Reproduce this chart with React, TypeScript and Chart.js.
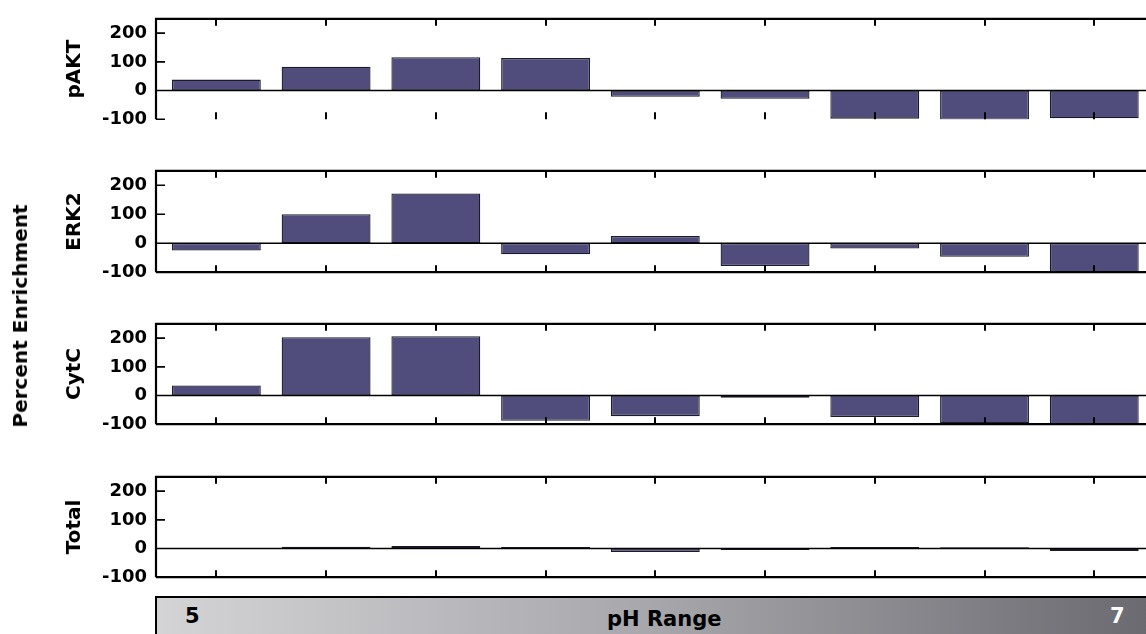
import React, { useEffect, useRef } from 'react';
import { Chart, registerables } from 'chart.js';

Chart.register(...registerables);

const FONT = "'DejaVu Sans', 'Liberation Sans', sans-serif";

// ---- data ----
const fractionIndex = [1, 2, 3, 4, 5, 6, 7, 8, 9];
const pAKT = [38, 83, 116, 113, -22, -29, -98, -102, -97];
const ERK2 = [-25, 100, 172, -38, 25, -79, -18, -47, -100];
const CytC = [35, 203, 207, -88, -72, -8, -75, -97, -102];
const Total = [-2, 6, 9, 5, -12, -5, 5, 4, -9];
const panelNames = ['pAKT', 'ERK2', 'CytC', 'Total'];
const yTickValues = [-100, 0, 100, 200];
const yMin = -100;
const yMax = 250;
const xMin = 0.45;
const xMax = 10;
const phEndLabels = ['5', '7'];
const xAxisTitle = 'pH Range';
const yAxisTitle = 'Percent Enrichment';

const BAR_FILL = '#504c7b';
const BAR_EDGE = '#1c1b2c';

const framePlugin = {
  id: 'frame',
  afterDatasetsDraw(chart: any, _args: any, opts: any) {
    const { ctx, chartArea } = chart;
    const { left, right, top, bottom } = chartArea;
    const x = chart.scales.x;
    const y = chart.scales.y;
    ctx.save();
    ctx.strokeStyle = '#000';
    // zero line
    const y0 = y.getPixelForValue(0);
    ctx.lineWidth = 1.4;
    ctx.beginPath();
    ctx.moveTo(left, y0);
    ctx.lineTo(right, y0);
    ctx.stroke();
    // frame
    ctx.lineWidth = 2.2;
    ctx.beginPath();
    ctx.moveTo(left, bottom);
    ctx.lineTo(left, top);
    ctx.lineTo(right, top);
    if (opts && opts.bottom) {
      ctx.moveTo(left, bottom);
      ctx.lineTo(right, bottom);
    }
    ctx.stroke();
    // x ticks (inward, top and bottom)
    ctx.lineWidth = 2;
    ctx.beginPath();
    for (const v of fractionIndex) {
      const px = Math.round(x.getPixelForValue(v));
      ctx.moveTo(px, top);
      ctx.lineTo(px, top + 7);
      ctx.moveTo(px, bottom);
      ctx.lineTo(px, bottom - 7);
    }
    ctx.stroke();
    // y ticks (inward)
    ctx.lineWidth = 1.6;
    ctx.beginPath();
    for (const v of yTickValues) {
      if (v === 0) continue;
      const py = y.getPixelForValue(v);
      ctx.moveTo(left, py);
      ctx.lineTo(left + 9, py);
    }
    ctx.stroke();
    ctx.restore();
  },
};

type PanelProps = { name: string; values: number[]; top: number; height: number; bottomBorder: boolean };

function Panel({ name, values, top, height, bottomBorder }: PanelProps) {
  const ref = useRef<HTMLCanvasElement | null>(null);
  useEffect(() => {
    if (!ref.current) return;
    const chart = new Chart(ref.current, {
      type: 'bar',
      data: {
        datasets: [
          {
            data: fractionIndex.map((f, i) => ({ x: f, y: values[i] })),
            backgroundColor: BAR_FILL,
            borderColor: BAR_EDGE,
            borderWidth: 1.3,
            borderSkipped: false,
            barPercentage: 0.81,
            categoryPercentage: 1,
          } as any,
        ],
      },
      options: {
        responsive: false,
        animation: false,
        layout: { padding: { left: 63, right: 0, top: 15, bottom: 15 } },
        plugins: {
          legend: { display: false },
          tooltip: { enabled: false },
          frame: { bottom: bottomBorder },
        } as any,
        scales: {
          x: {
            type: 'linear',
            min: xMin,
            max: xMax,
            display: false,
            offset: false,
            afterBuildTicks: (s: any) => {
              s.ticks = fractionIndex.map((v) => ({ value: v }));
            },
          },
          y: {
            min: yMin,
            max: yMax,
            afterBuildTicks: (s: any) => {
              s.ticks = yTickValues.map((v) => ({ value: v }));
            },
            afterFit: (s: any) => {
              s.width = 93;
            },
            grid: { display: false, drawTicks: false },
            border: { display: false },
            ticks: {
              padding: 9,
              color: '#000',
              font: { family: FONT, size: 18, weight: 'bold' },
            },
            title: {
              display: true,
              text: name,
              color: '#000',
              font: { family: FONT, size: 20, weight: 'bold' },
              padding: { top: 0, bottom: 0 },
            },
          },
        } as any,
      },
      plugins: [framePlugin],
    });
    return () => chart.destroy();
  }, [name, values, bottomBorder]);
  return (
    <canvas
      ref={ref}
      width={1204}
      height={height + 30}
      style={{ position: 'absolute', left: 0, top: top - 15, width: 1204, height: height + 30, display: 'block' }}
    />
  );
}

export default function App() {
  const series = [pAKT, ERK2, CytC, Total];
  const tops = [14, 166, 319, 472];
  const heights = [110, 111, 110, 110];
  return (
    <div
      style={{
        position: 'fixed',
        left: 0,
        top: 0,
        width: 1146,
        height: 634,
        overflow: 'hidden',
        background: '#fff',
      }}
    >
      {panelNames.map((n, i) => (
        <Panel key={n} name={n} values={series[i]} top={tops[i]} height={heights[i]} bottomBorder={i > 0} />
      ))}
      <div
        style={{
          position: 'absolute',
          left: 20,
          top: 316,
          transform: 'translate(-50%, -50%) rotate(-90deg)',
          whiteSpace: 'nowrap',
          fontFamily: FONT,
          fontWeight: 'bold',
          fontSize: 20,
          lineHeight: '20px',
          color: '#000',
        }}
      >
        {yAxisTitle}
      </div>
      <div
        style={{
          position: 'absolute',
          left: 155,
          top: 596,
          width: 1000,
          height: 50,
          borderTop: '2px solid #000',
          borderLeft: '2px solid #000',
          background: 'linear-gradient(to right, #d4d4d6 0%, #a6a6ab 50%, #69696f 100%)',
        }}
      />
      <span
        style={{
          position: 'absolute',
          left: 185,
          top: 606,
          fontFamily: FONT,
          fontWeight: 'bold',
          fontSize: 21,
          lineHeight: '21px',
          color: '#000',
        }}
      >
        {phEndLabels[0]}
      </span>
      <span
        style={{
          position: 'absolute',
          left: 607,
          top: 609,
          fontFamily: FONT,
          fontWeight: 'bold',
          fontSize: 21,
          lineHeight: '21px',
          color: '#000',
          whiteSpace: 'nowrap',
        }}
      >
        {xAxisTitle}
      </span>
      <span
        style={{
          position: 'absolute',
          left: 1110,
          top: 606,
          fontFamily: FONT,
          fontWeight: 'bold',
          fontSize: 21,
          lineHeight: '21px',
          color: '#fff',
        }}
      >
        {phEndLabels[1]}
      </span>
    </div>
  );
}
